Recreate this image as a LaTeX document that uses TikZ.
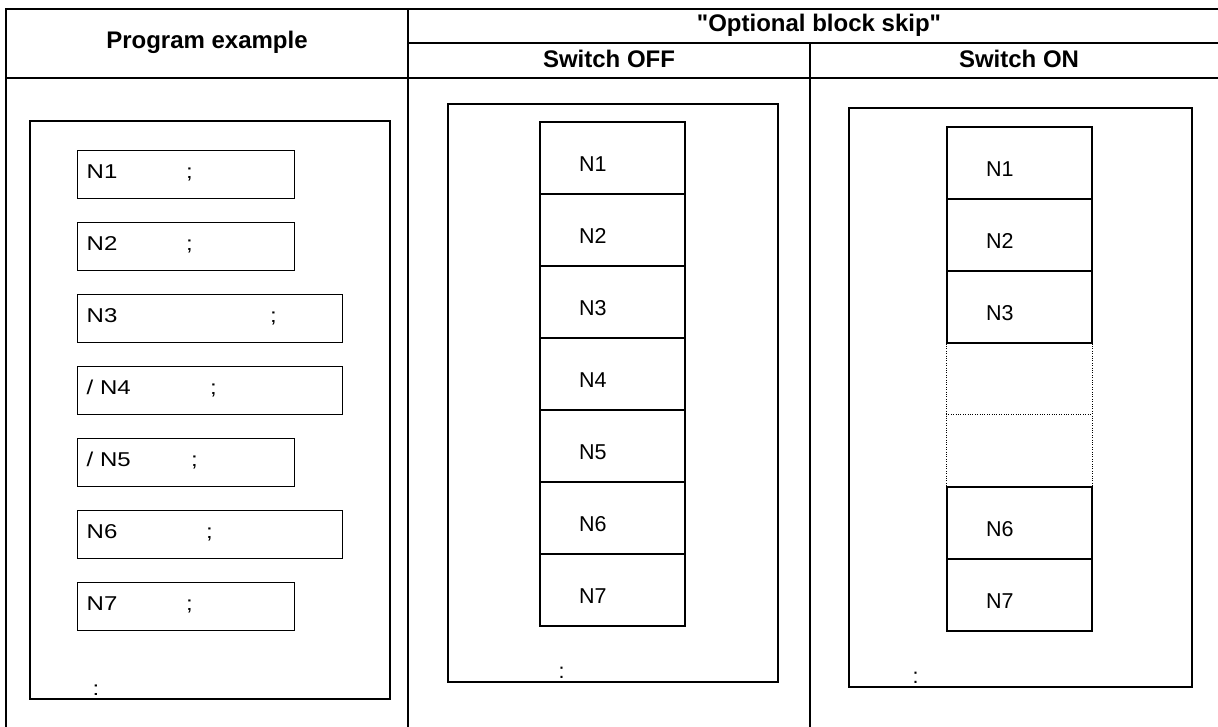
\documentclass[tikz,border=0pt]{standalone}
\usepackage{fontspec}
\setmainfont{Liberation Sans}
\newfontfamily\plainsans{Liberation Sans}
\newfontfamily\widesans[FakeStretch=1.2]{Liberation Sans}
\newcommand\pline[5]{%
  \node[progbox,minimum width=#3] (#1) at (77,#2) {};
  \node[ptxt] (#1l) at (86.5,#2+28.5) {#4};
  \node[ptxt] (#1s) at (#5-2,#2+28.5) {;};}
\newcommand\sblk[4]{%
  \node[blk] (#1) at (#2,#3) {};
  \node[btxt] (#1t) at (#2+40,#3+50.5) {#4};}
\begin{document}
\begin{tikzpicture}[x=1pt,y=-1pt,
  tbl/.style={line width=2.3pt},
  panel/.style={draw,line width=2pt},
  progbox/.style={draw,line width=1.3pt,minimum height=48pt,inner sep=0pt,anchor=north west},
  blk/.style={draw,line width=1.6pt,minimum width=145pt,minimum height=72pt,inner sep=0pt,anchor=north west},
  hdr/.style={font=\plainsans\bfseries\fontsize{24}{24}\selectfont,inner sep=0pt,anchor=base},
  ptxt/.style={font=\widesans\fontsize{20}{20}\selectfont,inner sep=0pt,anchor=base west},
  btxt/.style={font=\fontsize{21.5}{21.5}\selectfont,inner sep=0pt,anchor=base west},
  dots/.style={line width=0.9pt,dash pattern=on 1pt off 1.4pt}]
\useasboundingbox (0,0) rectangle (1218,727);
% table grid
\draw[tbl] (6,727) -- (6,9) -- (1218,9);
\draw[tbl] (408,43) -- (1218,43);
\draw[tbl] (6,78) -- (1218,78);
\draw[tbl] (408,9) -- (408,727);
\draw[tbl] (810,43) -- (810,727);
% headers
\node[hdr] (hprog) at (207,49) {Program example};
\node[hdr] (hobs) at (819,31.5) {"Optional block skip"};
\node[hdr] (hoff) at (609,67.5) {Switch OFF};
\node[hdr] (hon) at (1019,67.5) {Switch ON};
% panels
\draw[panel] (30,121) rectangle (390,699);
\draw[panel] (448,104) rectangle (778,682);
\draw[panel] (849,108) rectangle (1192,687);
% program example
\pline{p1}{150}{217pt}{N1}{188}
\pline{p2}{222}{217pt}{N2}{188}
\pline{p3}{294}{265pt}{N3}{272}
\pline{p4}{366}{265pt}{/ N4}{212}
\pline{p5}{438}{217pt}{/ N5}{193}
\pline{p6}{510}{265pt}{N6}{208}
\pline{p7}{582}{217pt}{N7}{188}
\node[ptxt] (pdots) at (92.5,695.5) {:};
% switch off
\sblk{off1}{539}{121}{N1}
\sblk{off2}{539}{193}{N2}
\sblk{off3}{539}{265}{N3}
\sblk{off4}{539}{337}{N4}
\sblk{off5}{539}{409}{N5}
\sblk{off6}{539}{481}{N6}
\sblk{off7}{539}{553}{N7}
\node[btxt] (offdots) at (558.5,678.5) {:};
% switch on
\sblk{on1}{946}{126}{N1}
\sblk{on2}{946}{198}{N2}
\sblk{on3}{946}{270}{N3}
\sblk{on6}{946}{486}{N6}
\sblk{on7}{946}{558}{N7}
\coordinate (skl) at (946,414);
\coordinate (skr) at (1091,414);
\draw[dots] (on3.south west) -- (on6.north west);
\draw[dots] (on3.south east) -- (on6.north east);
\draw[dots] (skl) -- (skr);
\node[btxt] (ondots) at (912.5,683.5) {:};
\end{tikzpicture}
\end{document}
